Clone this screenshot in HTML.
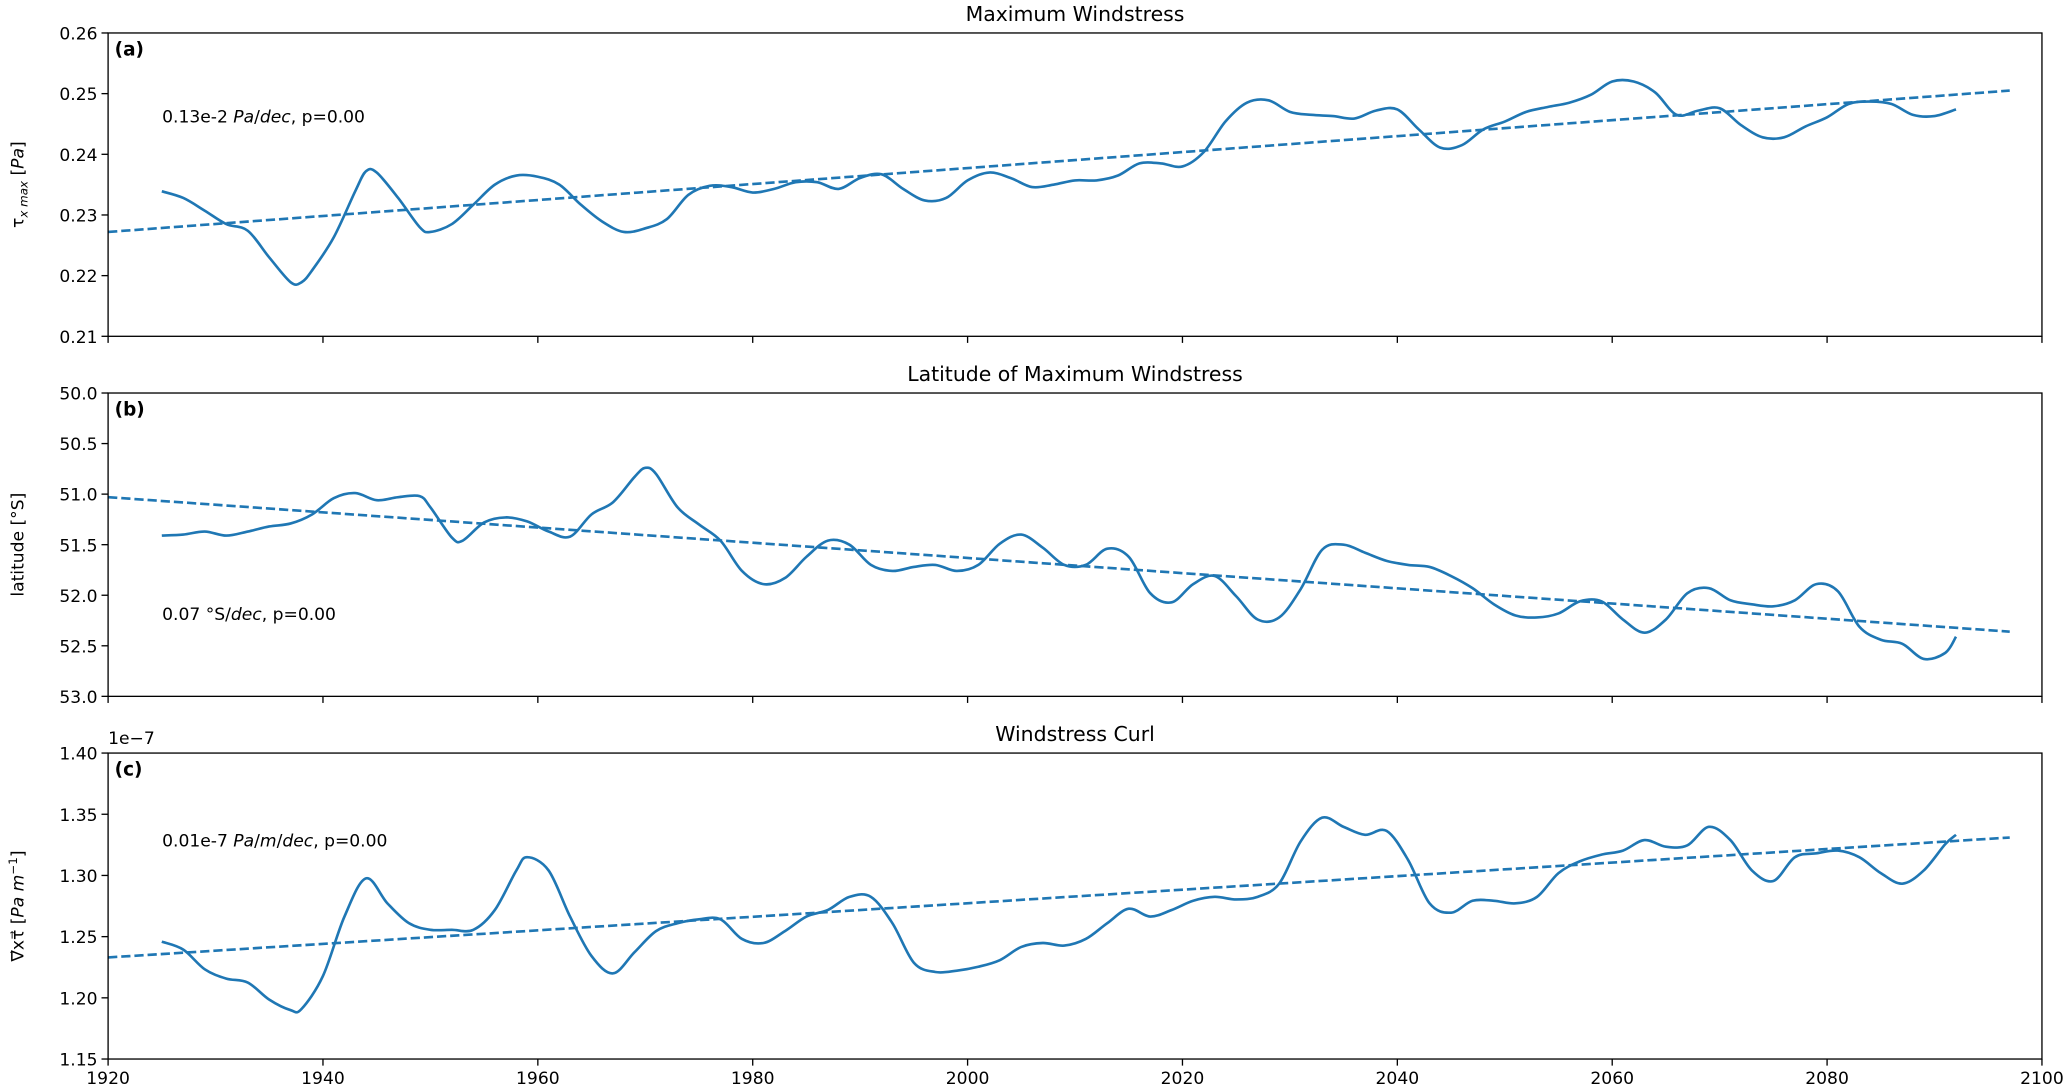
<!DOCTYPE html>
<html><head><meta charset="utf-8"><style>
body{margin:0;background:#fff}
svg{display:block}
svg text{font-family:"DejaVu Sans","Liberation Sans",sans-serif;fill:#000}
</style></head><body>
<svg id="fig" width="2067" height="1092" viewBox="0 0 1568 828" preserveAspectRatio="none" xmlns="http://www.w3.org/2000/svg"></svg>
<script>
const yearsA=[1925,1927,1929,1931,1933,1935,1937,1938,1939,1941,1943,1944,1945,1947,1949,1950,1952,1954,1956,1958,1960,1962,1964,1966,1968,1970,1972,1974,1976,1978,1980,1982,1984,1986,1988,1990,1992,1994,1996,1998,2000,2002,2004,2006,2008,2010,2012,2014,2016,2018,2020,2022,2024,2026,2028,2030,2032,2034,2036,2038,2040,2042,2044,2046,2048,2050,2052,2054,2056,2058,2060,2062,2064,2066,2068,2070,2072,2074,2076,2078,2080,2082,2084,2086,2088,2090,2092];
const valuesA=[0.2339,0.2328,0.2307,0.2285,0.2274,0.2230,0.2189,0.2189,0.2209,0.2263,0.2339,0.2372,0.2370,0.2328,0.2280,0.2272,0.2285,0.2317,0.2350,0.2365,0.2363,0.2350,0.2317,0.2289,0.2272,0.2278,0.2293,0.2333,0.2348,0.2346,0.2337,0.2343,0.2354,0.2354,0.2343,0.2361,0.2367,0.2343,0.2324,0.2328,0.2357,0.2370,0.2361,0.2346,0.2350,0.2357,0.2357,0.2365,0.2385,0.2385,0.2380,0.2404,0.2454,0.2485,0.2489,0.2470,0.2465,0.2463,0.2459,0.2472,0.2474,0.2441,0.2411,0.2415,0.2441,0.2454,0.2470,0.2478,0.2485,0.2498,0.2520,0.2520,0.2502,0.2465,0.2472,0.2476,0.2448,0.2428,0.2428,0.2446,0.2461,0.2483,0.2487,0.2483,0.2465,0.2463,0.2474];
const trendA=[0.2272,0.2505];
const yearsB=[1925,1927,1929,1931,1933,1935,1937,1939,1941,1943,1945,1947,1949,1950,1952,1953,1955,1957,1959,1961,1963,1965,1967,1969,1970,1971,1973,1975,1977,1979,1981,1983,1985,1987,1989,1991,1993,1995,1997,1999,2001,2003,2005,2007,2009,2011,2013,2015,2017,2019,2021,2023,2025,2027,2029,2031,2033,2035,2037,2039,2041,2043,2045,2047,2049,2051,2053,2055,2057,2059,2061,2063,2065,2067,2069,2071,2073,2075,2077,2079,2081,2083,2085,2087,2089,2091,2092];
const valuesB=[51.41,51.40,51.37,51.41,51.37,51.32,51.29,51.20,51.04,50.99,51.06,51.03,51.02,51.13,51.43,51.46,51.28,51.23,51.27,51.37,51.42,51.20,51.08,50.83,50.74,50.80,51.13,51.30,51.46,51.76,51.89,51.83,51.62,51.46,51.50,51.70,51.76,51.72,51.70,51.76,51.70,51.49,51.40,51.53,51.70,51.70,51.54,51.62,51.98,52.07,51.89,51.81,52.01,52.24,52.22,51.94,51.55,51.50,51.58,51.66,51.70,51.72,51.81,51.93,52.09,52.20,52.22,52.18,52.06,52.06,52.24,52.37,52.24,51.98,51.93,52.05,52.09,52.11,52.05,51.89,51.96,52.31,52.44,52.48,52.63,52.57,52.41];
const trendB=[51.03,52.36];
const yearsC=[1925,1927,1929,1931,1933,1935,1937,1938,1940,1942,1944,1946,1948,1950,1952,1954,1956,1958,1959,1961,1963,1965,1967,1969,1971,1973,1975,1977,1979,1981,1983,1985,1987,1989,1991,1993,1995,1997,1999,2001,2003,2005,2007,2009,2011,2013,2015,2017,2019,2021,2023,2025,2027,2029,2031,2033,2035,2037,2039,2041,2043,2045,2047,2049,2051,2053,2055,2057,2059,2061,2063,2065,2067,2069,2071,2073,2075,2077,2079,2081,2083,2085,2087,2089,2091,2092];
const valuesC=[1.2459,1.2394,1.2233,1.2157,1.2125,1.1985,1.1899,1.1909,1.2179,1.2664,1.2976,1.2772,1.2610,1.2556,1.2556,1.2556,1.2718,1.3041,1.3149,1.3041,1.2664,1.2341,1.2200,1.2373,1.2545,1.2610,1.2642,1.2642,1.2481,1.2448,1.2545,1.2664,1.2718,1.2825,1.2825,1.2610,1.2287,1.2211,1.2222,1.2254,1.2308,1.2416,1.2448,1.2427,1.2481,1.2610,1.2728,1.2664,1.2718,1.2793,1.2825,1.2804,1.2825,1.2933,1.3278,1.3472,1.3397,1.3332,1.3364,1.3127,1.2772,1.2696,1.2793,1.2793,1.2772,1.2825,1.3019,1.3116,1.3170,1.3203,1.3289,1.3235,1.3246,1.3397,1.3289,1.3041,1.2955,1.3149,1.3181,1.3203,1.3149,1.3019,1.2933,1.3041,1.3256,1.3332];
const trendC=[1.233,1.331];
const trendYears=[1920,2097];
const xTicks=[1920,1940,1960,1980,2000,2020,2040,2060,2080,2100];
const yTicksA=["0.21","0.22","0.23","0.24","0.25","0.26"];
const yTicksB=["50.0","50.5","51.0","51.5","52.0","52.5","53.0"];
const yTicksC=["1.15","1.20","1.25","1.30","1.35","1.40"];

const NS="http://www.w3.org/2000/svg";
const svg=document.getElementById('fig');
const X0=82,X1=1549;
const xs=yr=>X0+(yr-1920)/180*(X1-X0);
function el(tag,attrs,parent){const e=document.createElementNS(NS,tag);for(const k in attrs)e.setAttribute(k,attrs[k]);(parent||svg).appendChild(e);return e;}
function txt(s,attrs){const t=el('text',attrs);t.textContent=s;return t;}
function smooth(pts){let d='M'+pts[0][0]+','+pts[0][1];for(let i=0;i<pts.length-1;i++){const p0=pts[Math.max(0,i-1)],p1=pts[i],p2=pts[i+1],p3=pts[Math.min(pts.length-1,i+2)];d+=' C'+(p1[0]+(p2[0]-p0[0])/6)+','+(p1[1]+(p2[1]-p0[1])/6)+' '+(p2[0]-(p3[0]-p1[0])/6)+','+(p2[1]-(p3[1]-p1[1])/6)+' '+p2[0]+','+p2[1];}return d;}

function panel(key,top,bot,vTop,vBot,ticks,years,vals,trend,title,ylabel,label,annot,showX){
  const ys=v=>top+(v-vTop)/(vBot-vTop)*(bot-top);
  const t=txt(title,{x:(X0+X1)/2,y:top-9,'font-size':15.5,'text-anchor':'middle'});
  
  
  ticks.forEach(s=>{const y=ys(parseFloat(s));el('line',{x1:X0-5,x2:X0,y1:y,y2:y,stroke:'#000','stroke-width':1});
    const l=txt(s,{x:X0-8,y:y+5,'font-size':13,'text-anchor':'end'});
    
    });
  xTicks.forEach(yr=>{const x=xs(yr);el('line',{x1:x,x2:x,y1:bot,y2:bot+5,stroke:'#000','stroke-width':1});
    if(showX){const l=txt(String(yr),{x:x,y:bot+19,'font-size':13,'text-anchor':'middle'});
      
      }});
  const yl=txt('',{transform:`translate(18,${(top+bot)/2}) rotate(-90)`,'font-size':13,'text-anchor':'middle'});
  yl.innerHTML=ylabel;
  
  
  const tr=el('line',{x1:xs(trendYears[0]),y1:ys(trend[0]),x2:xs(trendYears[1]),y2:ys(trend[1]),stroke:'#1f77b4','stroke-width':2,'stroke-dasharray':'7,3'});
  
  
  const pts=years.map((y,i)=>[xs(y),ys(vals[i])]);
  const p=el('path',{d:smooth(pts),fill:'none',stroke:'#1f77b4','stroke-width':2,'stroke-linejoin':'round'});
  
  
  const fr=el('rect',{x:X0,y:top,width:X1-X0,height:bot-top,fill:'none',stroke:'#000','stroke-width':1});
  
  
  const pl=txt(label,{x:X0+5,y:top+17,'font-size':14,'font-weight':'bold'});
  
  
  const an=txt('',{x:123,y:annot[1],'font-size':13});
  an.innerHTML=annot[0];
  
  
}
panel('a',25,255,0.26,0.21,yTicksA,yearsA,valuesA,trendA,'Maximum Windstress','τ<tspan font-style="italic" font-size="9" dy="3">x max</tspan><tspan dy="-3"> [</tspan><tspan font-style="italic">Pa</tspan>]','(a)',['0.13e-2 <tspan font-style="italic">Pa</tspan>/<tspan font-style="italic">dec</tspan>, p=0.00',93],false);
panel('b',298,528,50,53,yTicksB,yearsB,valuesB,trendB,'Latitude of Maximum Windstress','latitude [°S]','(b)',['0.07 °S/<tspan font-style="italic">dec</tspan>, p=0.00',470],false);
panel('c',571,803,1.40,1.15,yTicksC,yearsC,valuesC,trendC,'Windstress Curl','∇⃗xτ⃗ [<tspan font-style="italic">Pa m</tspan><tspan font-size="9" dy="-5">−1</tspan><tspan dy="5">]</tspan>','(c)',['0.01e-7 <tspan font-style="italic">Pa</tspan>/<tspan font-style="italic">m</tspan>/<tspan font-style="italic">dec</tspan>, p=0.00',642],true);
const off=txt('1e−7',{x:82,y:564,'font-size':13});


</script>
</body></html>
